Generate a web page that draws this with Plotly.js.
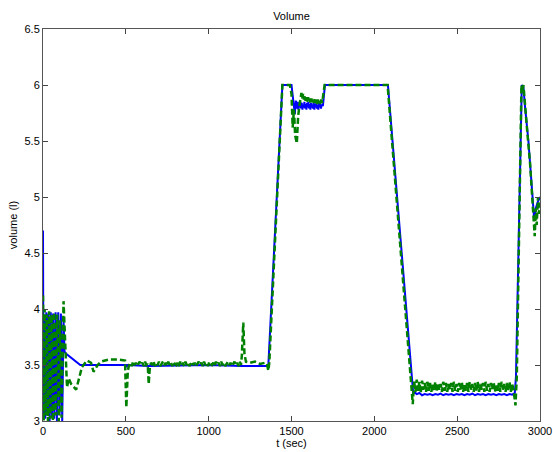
<!DOCTYPE html>
<html>
<head>
<meta charset="utf-8">
<script src="https://cdn.plot.ly/plotly-3.0.1.min.js"></script>
<style>html,body{margin:0;padding:0;background:#fff;}#chart{width:553px;height:452px;}</style>
</head>
<body>
<div id="chart"></div>
<script>
// Blue (solid) series: time (sec) and volume (l)
var blueT = [0,3,8,14,20,27,33,40,47,54,61,68,76,84,92,100,108,116,124,130,140,225,500,505,510,640,1000,1200,1360,
  1445,1500,1512,1520,1526,
  1530,1534,1538,1542,1546,1550,1554,1558,1562,1566,1570,1574,1578,1582,1586,1590,1594,1598,1602,1606,1610,1614,1618,1622,1626,1630,1634,1638,1642,1646,1650,1654,1658,1662,1666,1670,1674,1678,1682,
  1690,1702,2082,2235,
  2240,2256,2272,2288,2304,2320,2336,2352,2368,2384,2400,2416,2432,2448,2464,2480,2496,2512,2528,2544,2560,2576,2592,2608,2624,2640,2656,2672,2688,2704,2720,2736,2752,2768,2784,2800,2816,2832,
  2848,2855,2890,2900,2910,2930,2950,2965,2975,2985,3000];
var blueY = [4.70,3.05,3.95,3.02,3.97,3.05,3.96,3.00,3.97,3.03,3.96,3.02,3.97,3.00,3.97,3.05,3.96,3.00,3.90,3.62,3.60,3.50,3.50,3.48,3.50,3.49,3.50,3.49,3.49,
  6.00,6.00,5.85,5.74,5.86,
  5.84,5.79,5.85,5.78,5.83,5.80,5.85,5.79,5.84,5.78,5.82,5.80,5.85,5.79,5.83,5.78,5.84,5.80,5.85,5.79,5.83,5.78,5.84,5.80,5.82,5.79,5.85,5.78,5.83,5.80,5.84,5.79,5.82,5.78,5.84,5.80,5.83,5.79,5.82,
  5.82,6.00,6.00,3.24,
  3.26,3.24,3.25,3.23,3.24,3.235,3.24,3.23,3.24,3.235,3.245,3.23,3.24,3.235,3.24,3.23,3.24,3.235,3.24,3.23,3.24,3.235,3.245,3.23,3.24,3.235,3.24,3.23,3.24,3.235,3.24,3.23,3.24,3.235,3.24,3.23,3.24,3.235,
  3.25,3.40,6.00,5.98,5.80,5.50,5.10,4.80,4.90,4.95,5.00];

// Green (dashed) series: time (sec) and volume (l)
var greenT = [0,4,10,16,22,30,37,44,52,60,68,76,86,95,103,112,124,135,145,155,170,200,235,265,290,305,330,350,400,450,495,503,512,
  520,528,536,544,552,560,568,576,584,592,600,608,616,624,632,
  638,645,
  652,660,668,676,684,692,700,708,716,724,
  732,740,748,756,764,772,780,788,796,804,
  812,820,828,836,844,852,860,868,876,884,
  892,900,908,916,924,932,940,948,956,964,
  972,980,988,996,1004,1012,1020,1028,1036,1044,
  1052,1060,1068,1076,1084,1092,1100,1108,1116,1124,
  1132,1140,1148,1156,1164,1172,1180,1188,
  1195,
  1200,1209,1216,1225,1250,1280,1310,1340,1352,1360,1366,
  1445,1490,1500,1507,1515,1522,1532,1540,1548,
  1560,1565,1570,1575,1580,1585,1590,1595,1600,1605,1610,1615,1620,1625,1630,1635,1640,1645,1650,1655,1660,1665,1670,1675,1680,1685,
  1700,2080,2232,
  2240,2248,2256,2264,2272,2280,2288,2296,2304,2312,2320,2328,2336,2344,2352,2360,2368,2376,2384,2392,2400,2408,2416,2424,2432,2440,2448,2456,2464,2472,2480,2488,2496,2504,2512,2520,2528,2536,2544,2552,2560,2568,2576,2584,2592,2600,2608,2616,2624,2632,2640,2648,2656,2664,2672,2680,2688,2696,2704,2712,2720,2728,2736,2744,2752,2760,2768,2776,2784,2792,2800,2808,2816,2824,2832,2840,
  2852,2860,2888,2895,2900,2910,2925,2940,2955,2968,2975,2980,2988,2993,3000];
var greenY = [4.12,3.00,4.00,3.05,3.95,3.00,3.98,3.02,3.95,3.00,3.97,3.05,3.95,3.00,3.90,3.03,4.07,3.60,3.30,3.38,3.33,3.28,3.48,3.54,3.52,3.44,3.50,3.53,3.55,3.55,3.54,3.12,3.45,
  3.50,3.52,3.49,3.53,3.50,3.52,3.49,3.51,3.53,3.50,3.52,3.49,3.53,3.50,3.51,
  3.33,3.48,
  3.52,3.50,3.53,3.49,3.52,3.50,3.53,3.49,3.51,3.53,
  3.50,3.52,3.49,3.53,3.50,3.52,3.49,3.53,3.51,3.50,
  3.52,3.49,3.53,3.50,3.52,3.49,3.53,3.50,3.52,3.49,
  3.51,3.53,3.50,3.52,3.49,3.51,3.53,3.50,3.52,3.49,
  3.53,3.50,3.52,3.49,3.53,3.51,3.50,3.52,3.49,3.53,
  3.50,3.52,3.49,3.53,3.50,3.52,3.49,3.51,3.53,3.50,
  3.52,3.49,3.51,3.53,3.50,3.52,3.49,3.53,
  3.50,
  3.58,3.88,3.60,3.53,3.52,3.53,3.51,3.52,3.51,3.45,3.52,
  6.00,6.00,5.92,5.62,5.78,5.55,5.48,5.72,5.82,
  5.93,5.88,5.92,5.87,5.90,5.86,5.89,5.85,5.89,5.86,5.88,5.84,5.88,5.85,5.87,5.84,5.88,5.84,5.87,5.83,5.87,5.84,5.86,5.83,5.87,5.84,
  6.00,6.00,3.15,
  3.36,3.26,3.37,3.27,3.35,3.25,3.36,3.28,3.34,3.26,3.35,3.27,3.34,3.26,3.33,3.27,3.35,3.26,3.34,3.28,3.33,3.26,3.35,3.27,3.34,3.26,3.33,3.28,3.34,3.26,3.35,3.27,3.33,3.26,3.34,3.28,3.35,3.26,3.33,3.27,3.34,3.26,3.35,3.28,3.33,3.26,3.34,3.27,3.35,3.26,3.33,3.28,3.34,3.26,3.35,3.27,3.33,3.26,3.34,3.28,3.35,3.26,3.33,3.27,3.34,3.26,3.35,3.28,3.33,3.26,3.34,3.27,3.35,3.26,3.33,3.28,
  3.14,3.40,6.00,5.94,6.00,5.80,5.55,5.30,5.00,4.65,4.90,4.75,5.00,4.85,4.95];

var xTicks = [0,500,1000,1500,2000,2500,3000];
var yTicks = [3,3.5,4,4.5,5,5.5,6,6.5];

var traces = [
  {x: blueT, y: blueY, type: 'scatter', mode: 'lines', line: {color: '#0000ff', width: 2}, showlegend: false},
  {x: greenT, y: greenY, type: 'scatter', mode: 'lines', line: {color: '#008000', width: 2.5, dash: '6px,3px'}, showlegend: false}
];

var fontFam = '"Liberation Sans", Arial, sans-serif';
var layout = {
  width: 553, height: 452,
  margin: {l: 43, r: 13, t: 29, b: 31, pad: 0},
  paper_bgcolor: '#ffffff', plot_bgcolor: '#ffffff',
  font: {family: fontFam, size: 11, color: '#000'},
  title: {text: 'Volume', x: 0.5, xref: 'paper', xanchor: 'center', y: 1, yref: 'paper', yanchor: 'bottom', pad: {b: 9}, font: {size: 11, family: fontFam, color: '#000'}},
  xaxis: {
    range: [0, 3000], tickvals: xTicks, ticktext: xTicks.map(String),
    ticks: 'inside', ticklen: 5, tickcolor: '#444', mirror: 'allticks',
    showline: true, linecolor: '#555', linewidth: 1, showgrid: false, zeroline: false,
    tickfont: {size: 11, family: fontFam, color: '#000'},
    title: {text: 't (sec)', standoff: 2, font: {size: 11, family: fontFam, color: '#000'}}
  },
  yaxis: {
    range: [3, 6.5], tickvals: yTicks, ticktext: yTicks.map(String),
    ticks: 'inside', ticklen: 5, tickcolor: '#444', mirror: 'allticks',
    showline: true, linecolor: '#555', linewidth: 1, showgrid: false, zeroline: false,
    tickfont: {size: 11, family: fontFam, color: '#000'},
    title: {text: 'volume (l)', standoff: 4, font: {size: 11, family: fontFam, color: '#000'}}
  }
};

Plotly.newPlot('chart', traces, layout, {displayModeBar: false, staticPlot: true});
</script>
</body>
</html>
